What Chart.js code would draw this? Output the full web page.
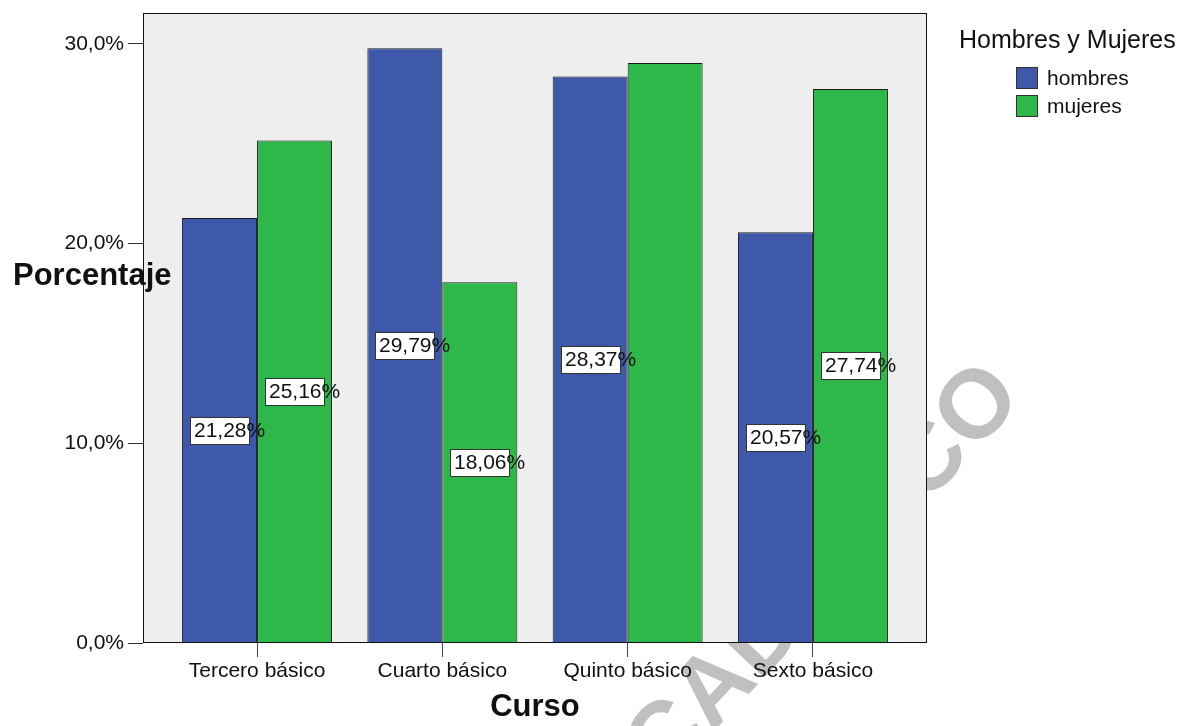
<!DOCTYPE html>
<html>
<head>
<meta charset="utf-8">
<title>Porcentaje por curso</title>
<script src="https://cdn.jsdelivr.net/npm/chart.js@4.4.1/dist/chart.umd.min.js"></script>
<style>
	html, body { margin: 0; padding: 0; background: #fff; }
	#wrap { width: 1194px; height: 726px; }
</style>
</head>
<body>
<div id="wrap"><canvas id="myChart" width="1194" height="726"></canvas></div>
<script>
"use strict";

const cursos = ['Tercero básico', 'Cuarto básico', 'Quinto básico', 'Sexto básico'];
const hombres = [21.28, 29.79, 28.37, 20.57];
const mujeres = [25.16, 18.06, 29.05, 27.74];
// Quinto/mujeres has no label in the original
const etiquetasHombres = ['21,28%', '29,79%', '28,37%', '20,57%'];
const etiquetasMujeres = ['25,16%', '18,06%', null, '27,74%'];
const ticksY = [0, 10, 20, 30];

const FONT = "'Liberation Sans', Arial, sans-serif";
Chart.defaults.font.family = FONT;

const fondo = {
	id: 'fondo',
	beforeDraw(chart) {
		const c = chart.ctx, a = chart.chartArea;
		c.save();
		// watermark, sits behind the plot
		c.translate(801, 599);
		c.rotate(-46.9 * Math.PI / 180);
		c.font = "bold 97px " + FONT;
		c.fillStyle = '#c0c0c0';
		c.textAlign = 'center';
		c.textBaseline = 'middle';
		c.fillText('ACADEMICO', 0, 0);
		c.restore();
		c.fillStyle = '#eeeeee';
		c.fillRect(a.left, a.top, a.right - a.left, a.bottom - a.top);
	},
	afterDatasetsDraw(chart) {
		const c = chart.ctx, a = chart.chartArea;
		c.save();
		c.strokeStyle = '#111';
		c.lineWidth = 1;
		c.strokeRect(a.left + 0.5, a.top + 0.5, a.right - a.left - 1, a.bottom - a.top - 1);

		// value boxes: box sized for the digits, the % runs over (as in SPSS)
		c.font = '21px ' + FONT;
		c.textBaseline = 'middle';
		c.textAlign = 'left';
		chart.data.datasets.forEach((ds, i) => {
			const meta = chart.getDatasetMeta(i);
			meta.data.forEach((bar, j) => {
				const txt = ds.etiquetas[j];
				if (!txt) return;
				const mid = (bar.y + bar.base) / 2;
				const bw = Math.round(c.measureText(txt.replace('%', '')).width + 6);
				const bh = 27;
				const x0 = Math.round(bar.x - bw / 2), y0 = Math.round(mid - bh / 2);
				c.fillStyle = '#ffffff';
				c.fillRect(x0, y0, bw, bh);
				c.strokeStyle = '#333';
				c.strokeRect(x0 + 0.5, y0 + 0.5, bw, bh);
				c.fillStyle = '#111';
				c.fillText(txt, x0 + 4, y0 + bh / 2 + 1);
			});
		});
		c.restore();
	},
	afterDraw(chart) {
		const c = chart.ctx;
		c.save();
		c.fillStyle = '#111';
		c.font = 'bold 31px ' + FONT;
		c.textAlign = 'left';
		c.textBaseline = 'alphabetic';
		c.fillText('Porcentaje', 13, 285);

		// legend
		c.font = '25px ' + FONT;
		c.fillText('Hombres y Mujeres', 959, 48);
		c.font = '21px ' + FONT;
		c.textBaseline = 'middle';
		chart.data.datasets.forEach((ds, i) => {
			const y = 67 + i * 28;
			c.fillStyle = ds.backgroundColor;
			c.fillRect(1016, y, 22, 22);
			c.strokeStyle = '#333';
			c.lineWidth = 1;
			c.strokeRect(1016.5, y + 0.5, 21, 21);
			c.fillStyle = '#111';
			c.fillText(ds.label, 1047, y + 12);
		});
		c.restore();
	}
};

const ctx = document.getElementById('myChart');

new Chart(ctx, {
	type: 'bar',
	data: {
		datasets: [{
			label: 'hombres',
			data: hombres.map((v, i) => ({ x: i, y: v })),
			etiquetas: etiquetasHombres,
			backgroundColor: '#3e58aa',
			borderColor: '#1a1a1a',
			borderWidth: 1
		}, {
			label: 'mujeres',
			data: mujeres.map((v, i) => ({ x: i, y: v })),
			etiquetas: etiquetasMujeres,
			backgroundColor: '#2eb84a',
			borderColor: '#1a1a1a',
			borderWidth: 1
		}]
	},
	options: {
		responsive: false,
		animation: false,
		categoryPercentage: 0.8095,
		barPercentage: 1,
		layout: { padding: { top: 13, right: 267, left: 0, bottom: 0 } },
		plugins: { legend: { display: false }, tooltip: { enabled: false } },
		scales: {
			x: {
				type: 'linear',
				offset: false,
				min: -0.6155,
				max: 3.6155,
				afterBuildTicks: (axis) => { axis.ticks = cursos.map((c, i) => ({ value: i })); },
				afterFit: (axis) => {
					axis.height = 83;
					axis.paddingLeft = 0;
					axis.paddingRight = 0;
				},
				ticks: {
					callback: (v) => cursos[v],
					font: { size: 21 },
					color: '#111',
					padding: 2,
					maxRotation: 0,
					autoSkip: false
				},
				grid: { offset: false, drawOnChartArea: false, tickLength: 14, color: '#444' },
				border: { display: false },
				title: {
					display: true,
					text: 'Curso',
					font: { size: 31, weight: 'bold' },
					color: '#111',
					padding: { top: 0, bottom: 0 }
				}
			},
			y: {
				min: 0,
				max: 31.55,
				afterBuildTicks: (axis) => { axis.ticks = ticksY.map(v => ({ value: v })); },
				afterFit: (axis) => {
					axis.width = 143;
					axis.paddingTop = 0;
					axis.paddingBottom = 0;
				},
				ticks: {
					callback: (v) => v.toFixed(1).replace('.', ',') + '%',
					font: { size: 21 },
					color: '#111',
					padding: 4
				},
				grid: { drawOnChartArea: false, tickLength: 15, color: '#333' },
				border: { display: false }
			}
		}
	},
	plugins: [fondo]
});
</script>
</body>
</html>
